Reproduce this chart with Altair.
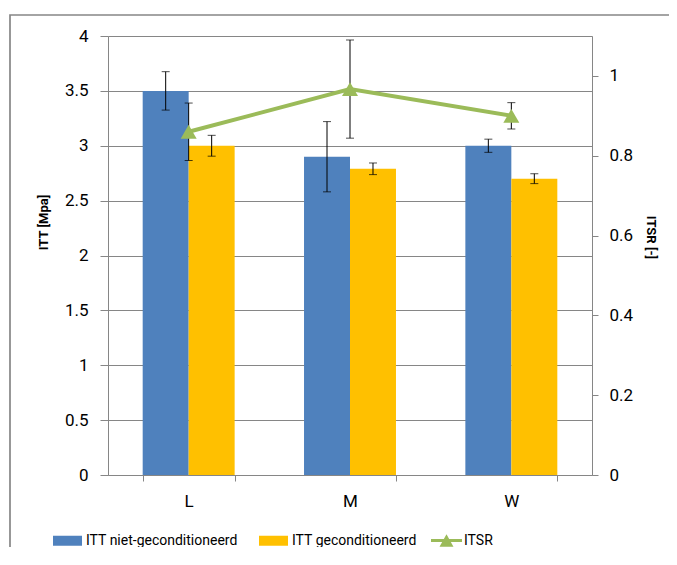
import altair as alt
import pandas as pd

# ---- data ----
categories = ["L", "M", "W"]
bar_series = ["ITT niet-geconditioneerd", "ITT geconditioneerd"]
line_series = ["ITSR"]
itt_niet = [3.5, 2.9, 3.0]
itt_niet_err = [0.175, 0.32, 0.06]
itt_gecon = [3.0, 2.79, 2.7]
itt_gecon_err = [0.095, 0.053, 0.045]
itsr = [0.86, 0.967, 0.9]
itsr_err = [0.072, 0.123, 0.033]
left_ticks = [0, 0.5, 1, 1.5, 2, 2.5, 3, 3.5, 4]
right_ticks = [0, 0.2, 0.4, 0.6, 0.8, 1]
bar_colors = ["#4F81BD", "#FFC000"]
line_color = "#9BBB59"

rows = []
for name, vals, errs in [(bar_series[0], itt_niet, itt_niet_err),
                         (bar_series[1], itt_gecon, itt_gecon_err)]:
    for c, v, e in zip(categories, vals, errs):
        rows.append({"cat": c, "series": name, "value": v, "lo": v - e, "hi": v + e})
bars_df = pd.DataFrame(rows)

itsr_df = pd.DataFrame({
    "cat": categories,
    "series": line_series[0],
    "value": itsr,
    "lo": [v - e for v, e in zip(itsr, itsr_err)],
    "hi": [v + e for v, e in zip(itsr, itsr_err)],
})

FONT = "Roboto"
GRAY = "#868686"

x_axis = alt.Axis(title=None, tickBand="extent", domainColor=GRAY, tickColor=GRAY,
                  tickSize=6, labelFont=FONT, labelFontSize=17, labelColor="#000000",
                  labelPadding=12, labelAngle=0, grid=False)
x_enc = alt.X("cat:N", sort=categories,
              scale=alt.Scale(paddingInner=0.43, paddingOuter=0.215), axis=x_axis)
xoff_enc = alt.XOffset("series:N", sort=bar_series,
                       scale=alt.Scale(paddingInner=0, paddingOuter=0))

left_axis = alt.Axis(title="ITT [Mpa]", values=left_ticks, format=".1~f", grid=True,
                     gridColor=GRAY, gridWidth=1, domainColor=GRAY, tickColor=GRAY,
                     tickSize=8, labelPadding=12, labelFont=FONT, labelFontSize=17,
                     labelColor="#000000", titleFont=FONT, titleFontSize=13,
                     titleFontWeight="bold", titleColor="#000000", titlePadding=14,
                     titleY=186)
right_axis = alt.Axis(title="ITSR [-]", orient="right", values=right_ticks, format=".1~f",
                      grid=False, domainColor=GRAY, tickColor=GRAY, tickSize=6,
                      labelPadding=11, labelFont=FONT, labelFontSize=17,
                      labelColor="#000000", titleFont=FONT, titleFontSize=13,
                      titleFontWeight="bold", titleColor="#000000", titlePadding=11,
                      titleY=201)

left_scale = alt.Scale(domain=[0, 4], nice=False)
right_scale = alt.Scale(domain=[0, 1.1], nice=False)

bar_path = "M-1,-0.345H1V0.345H-1Z"
line_path = "M-1,-0.1H1V0.1H-1Z M-0.45,0.4L0,-0.4L0.45,0.4Z"

bar_legend = alt.Legend(
    title=None, orient="none", legendX=-55, legendY=490, direction="horizontal",
    symbolSize=841, symbolType=bar_path, symbolStrokeWidth=0, labelFont=FONT,
    labelFontSize=14, labelColor="#000000", labelOffset=4, columnPadding=21,
    labelLimit=400,
)
line_legend = alt.Legend(
    title=None, orient="none", legendX=323, legendY=489, direction="horizontal",
    symbolSize=961, symbolType=line_path, symbolStrokeWidth=0, labelFont=FONT,
    labelFontSize=14, labelColor="#000000", labelOffset=2, labelLimit=400,
)
bar_color = alt.Color("series:N", scale=alt.Scale(domain=bar_series, range=bar_colors),
                      legend=bar_legend)
line_color_enc = alt.Color("series:N",
                           scale=alt.Scale(domain=line_series, range=[line_color]),
                           legend=line_legend)

# ---- bar group (left axis) ----
border = alt.Chart(pd.DataFrame({"b": [0]})).mark_rect(
    fill=None, stroke=GRAY, strokeWidth=1.7
).encode(x=alt.value(-98), x2=alt.value(800), y=alt.value(-21), y2=alt.value(800))

bars = alt.Chart(bars_df).mark_bar().encode(
    x=x_enc, xOffset=xoff_enc,
    y=alt.Y("value:Q", scale=left_scale, axis=left_axis),
    color=bar_color,
)
bar_err = alt.Chart(bars_df).mark_rule(color="black", strokeWidth=1).encode(
    x=x_enc, xOffset=xoff_enc,
    y=alt.Y("lo:Q", scale=left_scale, axis=left_axis), y2="hi:Q",
)
bar_caps = alt.Chart(bars_df).transform_fold(["lo", "hi"], as_=["end", "ev"]).mark_tick(
    color="black", thickness=1, size=8
).encode(
    x=x_enc, xOffset=xoff_enc,
    y=alt.Y("ev:Q", scale=left_scale, axis=left_axis),
)
bar_group = alt.layer(border, bars, bar_err, bar_caps)

# ---- ITSR group (right axis) ----
itsr_err_rule = alt.Chart(itsr_df).mark_rule(color="black", strokeWidth=1).encode(
    x=x_enc, y=alt.Y("lo:Q", scale=right_scale, axis=right_axis), y2="hi:Q",
)
itsr_caps = alt.Chart(itsr_df).transform_fold(["lo", "hi"], as_=["end", "ev"]).mark_tick(
    color="black", thickness=1, size=8
).encode(
    x=x_enc, y=alt.Y("ev:Q", scale=right_scale, axis=right_axis),
)
itsr_line = alt.Chart(itsr_df).mark_line(strokeWidth=4, color=line_color).encode(
    x=x_enc, y=alt.Y("value:Q", scale=right_scale, axis=right_axis),
)
itsr_pts = alt.Chart(itsr_df).mark_point(filled=True, shape="triangle-up", size=256,
                                         opacity=1).encode(
    x=x_enc, y=alt.Y("value:Q", scale=right_scale, axis=right_axis), color=line_color_enc,
)
itsr_group = alt.layer(itsr_err_rule, itsr_caps, itsr_line, itsr_pts)

chart = alt.layer(bar_group, itsr_group).resolve_scale(
    y="independent", color="independent"
).properties(
    width=484, height=439,
    autosize=alt.AutoSizeParams(type="none"),
    padding={"left": 100, "top": 28, "right": 77, "bottom": 72},
).configure_view(stroke=None).configure(background="white")

chart.save("out.html", embed_options={"renderer": "svg", "actions": False})
